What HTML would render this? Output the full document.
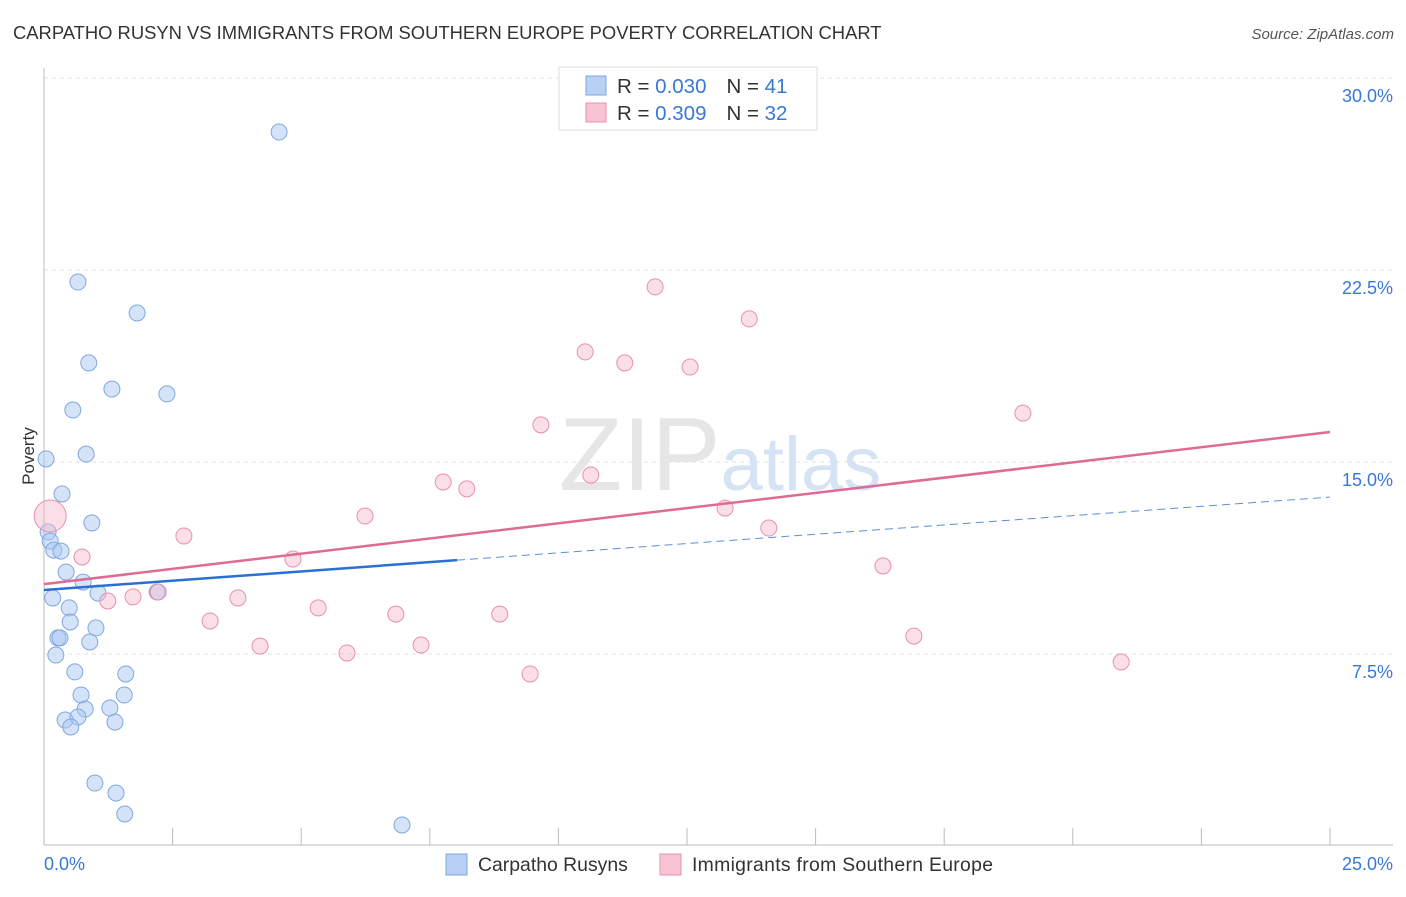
<!DOCTYPE html>
<html><head><meta charset="utf-8"><style>
body{margin:0;background:#fff;font-family:"Liberation Sans",sans-serif;}
svg text{font-family:"Liberation Sans",sans-serif;}
</style></head><body>
<svg id="chart" width="1406" height="892" xmlns="http://www.w3.org/2000/svg">
<text x="13" y="39" font-size="18.4" fill="#333">CARPATHO RUSYN VS IMMIGRANTS FROM SOUTHERN EUROPE POVERTY CORRELATION CHART</text>
<text x="1394" y="39" font-size="15" fill="#555" text-anchor="end" font-style="italic">Source: ZipAtlas.com</text>
<text x="720" y="490" font-size="104" text-anchor="middle" fill="#e6e6e6" font-family="Liberation Serif"><tspan>ZIP</tspan><tspan fill="#d6e3f4" font-family="Liberation Sans" font-size="76">atlas</tspan></text>
<g id="grid"></g>
<g id="axes"></g>
<g id="marks"></g>
<text transform="translate(34,456) rotate(-90)" font-size="17" fill="#333" text-anchor="middle">Poverty</text>
<g>
<rect x="559" y="67" width="258" height="63" fill="#fff" stroke="#ddd"/>
<rect x="586" y="76" width="20" height="19" fill="#b7d0f3" stroke="#7fa8e0"/>
<rect x="586" y="103" width="20" height="19" fill="#f8c4d3" stroke="#e890ab"/>
<text x="617" y="93" font-size="20.5" fill="#333">R = <tspan fill="#3a78d4">0.030</tspan><tspan dx="20">N = </tspan><tspan fill="#3a78d4">41</tspan></text>
<text x="617" y="120" font-size="20.5" fill="#333">R = <tspan fill="#3a78d4">0.309</tspan><tspan dx="20">N = </tspan><tspan fill="#3a78d4">32</tspan></text>
</g>
<g>
<rect x="446" y="854" width="21" height="21" fill="#b7d0f3" stroke="#7fa8e0"/>
<text x="478" y="871" font-size="19.4" fill="#333">Carpatho Rusyns</text>
<rect x="660" y="854" width="21" height="21" fill="#f8c4d3" stroke="#e890ab"/>
<text x="692" y="871" font-size="19.4" fill="#333" textLength="301">Immigrants from Southern Europe</text>
</g>
</svg>
<script>
const blueX=[4.57,0.66,1.81,0.87,1.32,2.39,0.56,0.82,0.04,0.35,0.93,0.08,0.12,0.19,0.33,0.43,0.76,1.05,2.20,0.17,0.49,0.51,1.01,0.27,0.31,0.89,0.23,0.60,1.59,0.72,1.56,0.80,1.28,0.41,0.66,1.38,0.52,0.99,1.40,1.57,6.96];
const blueY=[27.89,22.03,20.82,18.87,17.85,17.66,17.03,15.31,15.12,13.75,12.62,12.27,11.91,11.56,11.52,10.70,10.31,9.88,9.92,9.69,9.30,8.75,8.52,8.13,8.13,7.97,7.46,6.80,6.72,5.90,5.90,5.35,5.39,4.92,5.04,4.84,4.65,2.46,2.07,1.25,0.82];
const pinkX=[0.12,0.74,1.24,1.73,2.72,2.22,3.23,3.77,4.20,4.84,5.33,5.89,6.24,6.84,7.33,7.76,8.22,8.86,9.45,9.66,10.52,10.63,11.29,11.88,12.56,13.24,13.71,14.09,16.31,16.91,19.03,20.94];
const pinkY=[12.89,11.29,9.57,9.73,12.11,9.92,8.79,9.69,7.81,11.21,9.30,7.54,12.89,9.06,7.85,14.22,13.95,9.06,6.72,16.45,19.30,14.49,18.87,21.84,18.71,13.20,20.59,12.42,10.94,8.20,16.91,7.19];
const yTicks=[7.5,15,22.5,30];
const yTickLabels=["7.5%","15.0%","22.5%","30.0%"];
const xTicks=[0,2.5,5,7.5,10,12.5,15,17.5,20,22.5,25];
const blueTrend=[10.0,13.63];
const pinkTrend=[10.23,16.17];
const blueSolidEnd=8.03;

const NS="http://www.w3.org/2000/svg";
const X=v=>44+v*51.44, Y=v=>846-v*25.6;
function mk(t,a,p){const e=document.createElementNS(NS,t);for(const k in a)e.setAttribute(k,a[k]);p.appendChild(e);return e;}
const grid=document.getElementById('grid'),axes=document.getElementById('axes'),marks=document.getElementById('marks');
yTicks.forEach((v,i)=>{
 const l=mk('line',{x1:44,x2:1393,y1:Y(v),y2:Y(v),stroke:'#e2e2e2','stroke-dasharray':'4,4'},grid);
 
 
 const t=mk('text',{x:1393,y:Y(v)+24,'font-size':18,fill:'#3a78d4','text-anchor':'end'},axes);
 t.textContent=yTickLabels[i];
 
 
});
const ax=mk('line',{x1:44,x2:1393,y1:845,y2:845,stroke:'#bbb'},axes);


const ay=mk('line',{x1:44,x2:44,y1:68,y2:845,stroke:'#bbb'},axes);


xTicks.forEach(v=>{
 const l=mk('line',{x1:X(v),x2:X(v),y1:828,y2:845,stroke:'#bbb'},axes);
 
 
});
const x0=mk('text',{x:44,y:870,'font-size':18,fill:'#3a78d4'},axes);x0.textContent='0.0%';


const x1=mk('text',{x:1393,y:870,'font-size':18,fill:'#3a78d4','text-anchor':'end'},axes);x1.textContent='25.0%';



blueX.forEach((v,i)=>{
 const c=mk('circle',{cx:X(v),cy:Y(blueY[i]),r:8,fill:'rgba(170,200,242,0.5)',stroke:'#7fa8e0','stroke-width':1},marks);
 
 
});
pinkX.forEach((v,i)=>{
 const c=mk('circle',{cx:X(v),cy:Y(pinkY[i]),r:i===0?16:8,fill:'rgba(246,185,204,0.45)',stroke:'#e890ab','stroke-width':1},marks);
 
 
});
const bl=(v)=>blueTrend[0]+(blueTrend[1]-blueTrend[0])*v/25;
const bs=mk('line',{x1:X(0),y1:Y(blueTrend[0]),x2:X(blueSolidEnd),y2:Y(bl(blueSolidEnd)),stroke:'#2a6fd4','stroke-width':2.5},marks);


const bd=mk('line',{x1:X(blueSolidEnd),y1:Y(bl(blueSolidEnd)),x2:X(25),y2:Y(blueTrend[1]),stroke:'#5b8fd8','stroke-width':1,'stroke-dasharray':'8,5'},marks);


const pl=mk('line',{x1:X(0),y1:Y(pinkTrend[0]),x2:X(25),y2:Y(pinkTrend[1]),stroke:'#e06a96','stroke-width':2.5},marks);


</script>
</body></html>
